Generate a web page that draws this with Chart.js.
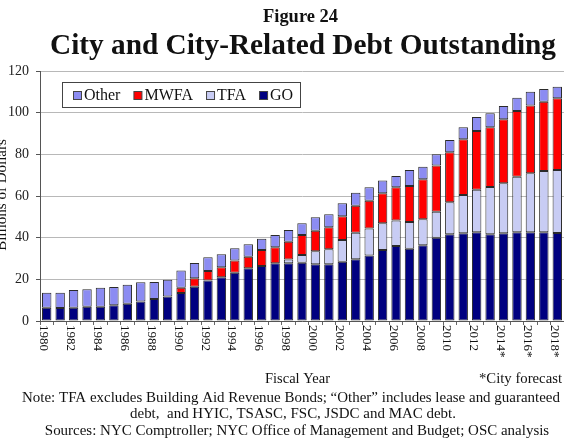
<!DOCTYPE html>
<html lang="en">
  <head>
    <meta charset="utf-8" />
    <title>City and City-Related Debt Outstanding</title>
    <style>
      * {
        margin: 0;
        padding: 0;
      }
      body {
        background: white;
      }
    </style>
  </head>
  <body>
    <canvas id="myChart" width="564" height="440"></canvas>

    <script src="https://cdn.jsdelivr.net/npm/chart.js@4.4.0/dist/chart.umd.min.js"></script>

    <script>
      // fiscal years, 2014 onward are city forecasts
      const years = [
        "1980", "1981", "1982", "1983", "1984", "1985", "1986", "1987", "1988", "1989",
        "1990", "1991", "1992", "1993", "1994", "1995", "1996", "1997", "1998", "1999",
        "2000", "2001", "2002", "2003", "2004", "2005", "2006", "2007", "2008", "2009",
        "2010", "2011", "2012", "2013", "2014*", "2015*", "2016*", "2017*", "2018*",
      ];

      // billions of dollars
      const go = [
        6.4, 6.2, 6.4, 6.9, 6.9, 7.6, 8.3, 9.4, 10.6, 11.8,
        13.5, 16.5, 19.4, 21.0, 23.2, 25.3, 26.4, 27.7, 27.7, 28.0,
        27.3, 27.3, 28.5, 29.7, 31.4, 34.1, 36.0, 34.7, 36.4, 40.0,
        41.6, 42.1, 42.6, 41.6, 42.1, 42.6, 42.6, 42.6, 42.2,
      ];
      const tfa = [
        null, null, null, null, null, null, null, null, null, null,
        null, null, null, null, null, null, null, null, 1.8, 3.7,
        6.2, 7.2, 10.4, 12.7, 13.0, 12.8, 12.2, 12.8, 12.5, 12.5,
        15.4, 18.4, 20.4, 22.7, 24.0, 26.7, 28.3, 29.4, 30.3,
      ];
      const mwfa = [
        null, null, null, null, null, null, null, null, null, null,
        2.5, 4.0, 4.6, 4.8, 5.8, 5.6, 7.7, 7.7, 8.6, 9.6,
        9.8, 10.5, 11.4, 12.9, 13.3, 14.4, 16.0, 17.3, 19.1, 22.1,
        24.0, 26.7, 28.2, 28.7, 30.7, 31.5, 32.5, 33.3, 34.4,
      ];
      const other = [
        7.2, 7.4, 8.5, 8.3, 9.1, 8.7, 9.1, 9.2, 8.1, 8.0,
        8.2, 7.3, 6.6, 6.2, 5.9, 5.9, 5.4, 5.9, 5.6, 5.6,
        6.5, 6.3, 6.2, 6.3, 6.5, 6.1, 5.4, 7.7, 6.1, 5.4,
        5.9, 5.8, 6.7, 6.7, 6.4, 6.4, 6.7, 6.1, 5.6,
      ];

      const serif = "'Liberation Serif', 'Times New Roman', serif";

      const makeSet = (label, values, color) => ({
        label: label,
        data: values,
        backgroundColor: color,
        borderColor: "#2a2a2a",
        borderWidth: 1,
        borderSkipped: false,
        barPercentage: 0.7,
        categoryPercentage: 1,
      });

      const data = {
        labels: years,
        datasets: [
          makeSet("GO", go, "#000080"),
          makeSet("TFA", tfa, "#c8ccf4"),
          makeSet("MWFA", mwfa, "#ff0000"),
          makeSet("Other", other, "#8c8cf2"),
        ],
      };

      // draw text squeezed/stretched to sit between x1 and x2, returns the x scale used
      function fitText(ctx, text, x1, x2, baseline, font) {
        ctx.font = font;
        const w = ctx.measureText(text).width;
        const sx = (x2 - x1) / w;
        ctx.save();
        ctx.translate(x1, baseline);
        ctx.scale(sx, 1);
        ctx.textAlign = "left";
        ctx.textBaseline = "alphabetic";
        ctx.fillText(text, 0, 0);
        ctx.restore();
        return sx;
      }

      // centred text with a given horizontal squeeze
      function squeezedText(ctx, text, cx, baseline, font, sx) {
        ctx.font = font;
        ctx.save();
        ctx.translate(cx, baseline);
        ctx.scale(sx, 1);
        ctx.textAlign = "center";
        ctx.textBaseline = "alphabetic";
        ctx.fillText(text, 0, 0);
        ctx.restore();
      }

      const textLayer = {
        id: "textLayer",
        afterDraw(chart) {
          const { ctx, data } = chart;
          const xScale = chart.scales.x;
          ctx.save();
          ctx.fillStyle = "#111";

          // titles
          fitText(ctx, "Figure 24", 263, 338, 22, "bold 18px " + serif);
          fitText(ctx, "City and City-Related Debt Outstanding", 50, 556, 54, "bold 30px " + serif);

          // x labels, every other year, rotated clockwise
          ctx.font = "13px " + serif;
          ctx.textAlign = "left";
          ctx.textBaseline = "middle";
          for (let i = 0; i < data.labels.length; i += 2) {
            const x = xScale.getPixelForTick(i);
            ctx.save();
            ctx.translate(x - 3, 325);
            ctx.rotate(Math.PI / 2);
            ctx.fillText(data.labels[i], 0, 0);
            ctx.restore();
          }

          // y axis title (cut by the left edge)
          ctx.save();
          ctx.translate(2, 195);
          ctx.rotate(-Math.PI / 2);
          ctx.textAlign = "center";
          ctx.textBaseline = "middle";
          ctx.font = "15px " + serif;
          ctx.fillText("Billions of Dollars", 0, 0);
          ctx.restore();

          // legend box
          ctx.fillStyle = "white";
          ctx.fillRect(62.5, 82.5, 238, 25);
          ctx.strokeStyle = "#444";
          ctx.lineWidth = 1;
          ctx.strokeRect(62.5, 82.5, 238, 25);
          ctx.font = "16px " + serif;
          ctx.textAlign = "left";
          ctx.textBaseline = "middle";
          let lx = 73;
          for (let i = data.datasets.length - 1; i >= 0; i--) {
            const ds = data.datasets[i];
            ctx.fillStyle = ds.backgroundColor;
            ctx.fillRect(lx + 0.5, 91.5, 8, 8);
            ctx.strokeStyle = "#444";
            ctx.strokeRect(lx + 0.5, 91.5, 8, 8);
            ctx.fillStyle = "#111";
            ctx.fillText(ds.label, lx + 11, 96);
            lx += 11 + ctx.measureText(ds.label).width + 13;
          }

          // footer
          ctx.fillStyle = "#111";
          const noteFont = "14px " + serif;
          fitText(ctx, "Fiscal Year", 265, 330, 383, noteFont);
          fitText(ctx, "*City forecast", 479, 562, 383, noteFont);
          const sx = fitText(ctx, "Note: TFA excludes Building Aid Revenue Bonds; \u201cOther\u201d includes lease and guaranteed", 22, 560, 402, noteFont);
          squeezedText(ctx, "debt,  and HYIC, TSASC, FSC, JSDC and MAC debt.", 293, 418, noteFont, sx);
          squeezedText(ctx, "Sources: NYC Comptroller; NYC Office of Management and Budget; OSC analysis", 297, 435, noteFont, sx);

          ctx.restore();
        },
      };

      const config = {
        type: "bar",
        data: data,
        options: {
          responsive: false,
          animation: false,
          layout: {
            padding: { top: 71, right: 0, left: 0, bottom: 0 },
          },
          scales: {
            x: {
              stacked: true,
              ticks: { display: false },
              grid: {
                offset: true,
                drawOnChartArea: false,
                drawTicks: true,
                tickLength: 4,
                tickColor: "#666",
              },
              border: { color: "#555" },
              afterFit(scale) {
                scale.height = 119;
              },
            },
            y: {
              stacked: true,
              min: 0,
              max: 120,
              ticks: {
                stepSize: 20,
                padding: 7,
                color: "#222",
                font: { family: serif, size: 14 },
              },
              grid: {
                color: "#b8b8b8",
                tickColor: "#555",
                tickLength: 4,
              },
              border: { color: "#555" },
              afterFit(scale) {
                scale.width = 40;
              },
            },
          },
          plugins: {
            legend: { display: false },
            tooltip: { enabled: false },
          },
        },
        plugins: [textLayer],
      };

      const myChart = new Chart(document.getElementById("myChart"), config);
    </script>
  </body>
</html>
